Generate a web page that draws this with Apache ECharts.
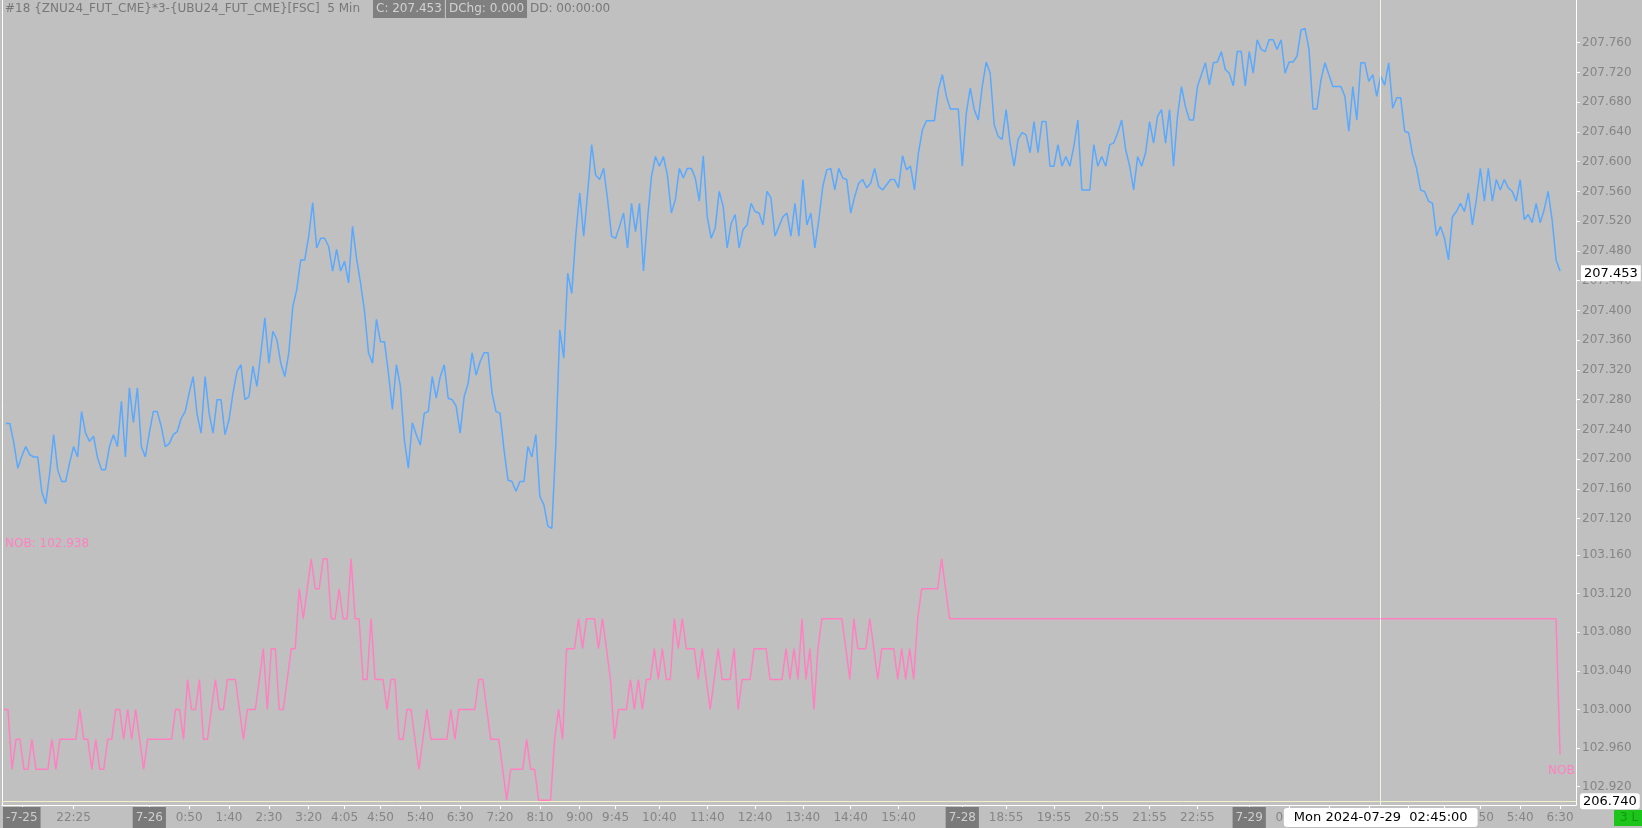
<!DOCTYPE html>
<html>
<head>
<meta charset="utf-8">
<script src="https://cdn.jsdelivr.net/npm/echarts@6/dist/echarts.min.js"></script>
<style>
  html, body { margin: 0; padding: 0; background: #c0c0c0; }
  #main { width: 1642px; height: 828px; }
</style>
</head>
<body>
<div id="main"></div>
<script>
// sessions: date, start hour, start minute, number of 5 min bars
const sessions = [['7-25', 21, 0, 36], ['7-26', 0, 0, 204], ['7-28', 18, 0, 72], ['7-29', 0, 0, 79]];

// ZNU24*3 - UBU24 spread, close of each 5 min bar
const spread = [
  207.248, 207.248, 207.222, 207.188, 207.204, 207.217, 207.206, 207.203, 207.203, 207.157,
  207.140, 207.181, 207.233, 207.186, 207.170, 207.170, 207.195, 207.217, 207.203, 207.264,
  207.235, 207.224, 207.231, 207.202, 207.186, 207.186, 207.217, 207.233, 207.217, 207.278,
  207.203, 207.296, 207.249, 207.296, 207.217, 207.203, 207.235, 207.264, 207.264, 207.244,
  207.217, 207.221, 207.233, 207.237, 207.255, 207.264, 207.289, 207.311, 207.260, 207.235,
  207.311, 207.262, 207.235, 207.280, 207.280, 207.233, 207.253, 207.289, 207.318, 207.327,
  207.280, 207.284, 207.325, 207.298, 207.343, 207.390, 207.329, 207.372, 207.361, 207.329,
  207.311, 207.343, 207.405, 207.428, 207.468, 207.468, 207.500, 207.545, 207.484, 207.497,
  207.497, 207.486, 207.453, 207.482, 207.453, 207.466, 207.437, 207.513, 207.470, 207.437,
  207.399, 207.343, 207.329, 207.388, 207.358, 207.358, 207.316, 207.267, 207.327, 207.298,
  207.226, 207.188, 207.249, 207.233, 207.219, 207.262, 207.264, 207.311, 207.282, 207.311,
  207.327, 207.282, 207.280, 207.271, 207.235, 207.284, 207.302, 207.343, 207.313, 207.331,
  207.343, 207.343, 207.289, 207.264, 207.262, 207.213, 207.172, 207.170, 207.157, 207.170,
  207.170, 207.217, 207.203, 207.233, 207.150, 207.139, 207.110, 207.107, 207.220, 207.374,
  207.336, 207.450, 207.423, 207.500, 207.558, 207.500, 207.558, 207.623, 207.582, 207.576,
  207.591, 207.549, 207.500, 207.497, 207.513, 207.531, 207.484, 207.544, 207.506, 207.544,
  207.453, 207.522, 207.580, 207.607, 207.594, 207.607, 207.582, 207.531, 207.549, 207.591,
  207.578, 207.591, 207.591, 207.578, 207.547, 207.608, 207.526, 207.497, 207.511, 207.560,
  207.540, 207.484, 207.517, 207.529, 207.484, 207.509, 207.515, 207.544, 207.533, 207.531,
  207.515, 207.560, 207.551, 207.500, 207.513, 207.526, 207.531, 207.500, 207.544, 207.500,
  207.576, 207.515, 207.531, 207.484, 207.522, 207.567, 207.589, 207.591, 207.562, 207.591,
  207.578, 207.576, 207.531, 207.553, 207.571, 207.576, 207.565, 207.571, 207.591, 207.567,
  207.562, 207.569, 207.576, 207.576, 207.565, 207.608, 207.589, 207.594, 207.562, 207.612,
  207.643, 207.655, 207.655, 207.655, 207.697, 207.717, 207.688, 207.671, 207.671, 207.671,
  207.594, 207.665, 207.699, 207.670, 207.656, 207.701, 207.734, 207.719, 207.650, 207.634,
  207.630, 207.670, 207.625, 207.594, 207.630, 207.639, 207.636, 207.612, 207.654, 207.612,
  207.654, 207.654, 207.594, 207.594, 207.623, 207.594, 207.607, 207.594, 207.621, 207.656,
  207.562, 207.562, 207.562, 207.623, 207.594, 207.607, 207.594, 207.623, 207.625, 207.639,
  207.656, 207.616, 207.594, 207.562, 207.607, 207.594, 207.612, 207.654, 207.625, 207.661,
  207.670, 207.625, 207.670, 207.594, 207.661, 207.701, 207.674, 207.656, 207.656, 207.701,
  207.717, 207.733, 207.703, 207.733, 207.734, 207.748, 207.724, 207.719, 207.702, 207.748,
  207.748, 207.702, 207.748, 207.719, 207.764, 207.751, 207.748, 207.764, 207.764, 207.751,
  207.764, 207.719, 207.734, 207.734, 207.742, 207.777, 207.779, 207.751, 207.671, 207.671,
  207.710, 207.733, 207.717, 207.701, 207.701, 207.701, 207.688, 207.641, 207.701, 207.656,
  207.733, 207.733, 207.708, 207.717, 207.688, 207.715, 207.703, 207.733, 207.672, 207.686,
  207.686, 207.641, 207.639, 207.609, 207.591, 207.562, 207.560, 207.547, 207.544, 207.500,
  207.513, 207.497, 207.468, 207.526, 207.533, 207.544, 207.533, 207.558, 207.515, 207.549,
  207.591, 207.547, 207.591, 207.547, 207.576, 207.562, 207.576, 207.565, 207.560, 207.547,
  207.576, 207.522, 207.529, 207.518, 207.544, 207.518, 207.535, 207.560, 207.522, 207.468,
  207.453
];

// NOB study values
const nob = [
  103.000, 103.000, 102.938, 102.969, 102.969, 102.938, 102.938, 102.969, 102.938, 102.938,
  102.938, 102.938, 102.969, 102.938, 102.969, 102.969, 102.969, 102.969, 102.969, 103.000,
  102.969, 102.969, 102.938, 102.969, 102.938, 102.938, 102.969, 102.969, 103.000, 103.000,
  102.969, 103.000, 102.969, 103.000, 102.969, 102.938, 102.969, 102.969, 102.969, 102.969,
  102.969, 102.969, 102.969, 103.000, 103.000, 102.969, 103.031, 103.000, 103.000, 103.031,
  102.969, 102.969, 103.000, 103.031, 103.000, 103.000, 103.031, 103.031, 103.031, 103.000,
  102.969, 103.000, 103.000, 103.000, 103.031, 103.063, 103.000, 103.063, 103.063, 103.000,
  103.000, 103.031, 103.063, 103.063, 103.125, 103.094, 103.125, 103.156, 103.125, 103.125,
  103.156, 103.156, 103.094, 103.094, 103.125, 103.094, 103.094, 103.156, 103.094, 103.094,
  103.031, 103.031, 103.094, 103.031, 103.031, 103.031, 103.000, 103.031, 103.031, 102.969,
  102.969, 103.000, 103.000, 102.969, 102.938, 102.969, 103.000, 102.969, 102.969, 102.969,
  102.969, 102.969, 103.000, 102.969, 103.000, 103.000, 103.000, 103.000, 103.000, 103.031,
  103.031, 103.000, 102.969, 102.969, 102.969, 102.938, 102.906, 102.938, 102.938, 102.938,
  102.938, 102.969, 102.938, 102.938, 102.906, 102.906, 102.906, 102.906, 102.969, 103.000,
  102.969, 103.063, 103.063, 103.063, 103.094, 103.063, 103.094, 103.094, 103.094, 103.063,
  103.094, 103.063, 103.031, 102.969, 103.000, 103.000, 103.000, 103.031, 103.000, 103.031,
  103.000, 103.031, 103.031, 103.063, 103.031, 103.063, 103.031, 103.031, 103.094, 103.063,
  103.094, 103.063, 103.063, 103.063, 103.031, 103.063, 103.031, 103.000, 103.031, 103.063,
  103.031, 103.031, 103.031, 103.063, 103.000, 103.031, 103.031, 103.031, 103.063, 103.063,
  103.063, 103.063, 103.031, 103.031, 103.031, 103.031, 103.063, 103.031, 103.063, 103.031,
  103.094, 103.031, 103.063, 103.000, 103.063, 103.094, 103.094, 103.094, 103.094, 103.094,
  103.094, 103.063, 103.031, 103.094, 103.063, 103.063, 103.063, 103.094, 103.063, 103.031,
  103.063, 103.063, 103.063, 103.063, 103.031, 103.063, 103.031, 103.063, 103.031, 103.094,
  103.125, 103.125, 103.125, 103.125, 103.125, 103.156, 103.125, 103.094, 103.094, 103.094,
  103.094, 103.094, 103.094, 103.094, 103.094, 103.094, 103.094, 103.094, 103.094, 103.094,
  103.094, 103.094, 103.094, 103.094, 103.094, 103.094, 103.094, 103.094, 103.094, 103.094,
  103.094, 103.094, 103.094, 103.094, 103.094, 103.094, 103.094, 103.094, 103.094, 103.094,
  103.094, 103.094, 103.094, 103.094, 103.094, 103.094, 103.094, 103.094, 103.094, 103.094,
  103.094, 103.094, 103.094, 103.094, 103.094, 103.094, 103.094, 103.094, 103.094, 103.094,
  103.094, 103.094, 103.094, 103.094, 103.094, 103.094, 103.094, 103.094, 103.094, 103.094,
  103.094, 103.094, 103.094, 103.094, 103.094, 103.094, 103.094, 103.094, 103.094, 103.094,
  103.094, 103.094, 103.094, 103.094, 103.094, 103.094, 103.094, 103.094, 103.094, 103.094,
  103.094, 103.094, 103.094, 103.094, 103.094, 103.094, 103.094, 103.094, 103.094, 103.094,
  103.094, 103.094, 103.094, 103.094, 103.094, 103.094, 103.094, 103.094, 103.094, 103.094,
  103.094, 103.094, 103.094, 103.094, 103.094, 103.094, 103.094, 103.094, 103.094, 103.094,
  103.094, 103.094, 103.094, 103.094, 103.094, 103.094, 103.094, 103.094, 103.094, 103.094,
  103.094, 103.094, 103.094, 103.094, 103.094, 103.094, 103.094, 103.094, 103.094, 103.094,
  103.094, 103.094, 103.094, 103.094, 103.094, 103.094, 103.094, 103.094, 103.094, 103.094,
  103.094, 103.094, 103.094, 103.094, 103.094, 103.094, 103.094, 103.094, 103.094, 103.094,
  102.953
];

// x tick labels: category, text
const xTicks = [
  ['7-25 21:20', '-7-25'], ['7-25 22:25', '22:25'], ['7-26 0:00', '7-26'], ['7-26 0:50', '0:50'],
  ['7-26 1:40', '1:40'], ['7-26 2:30', '2:30'], ['7-26 3:20', '3:20'], ['7-26 4:05', '4:05'],
  ['7-26 4:50', '4:50'], ['7-26 5:40', '5:40'], ['7-26 6:30', '6:30'], ['7-26 7:20', '7:20'],
  ['7-26 8:10', '8:10'], ['7-26 9:00', '9:00'], ['7-26 9:45', '9:45'], ['7-26 10:40', '10:40'],
  ['7-26 11:40', '11:40'], ['7-26 12:40', '12:40'], ['7-26 13:40', '13:40'], ['7-26 14:40', '14:40'],
  ['7-26 15:40', '15:40'], ['7-28 18:00', '7-28'], ['7-28 18:55', '18:55'], ['7-28 19:55', '19:55'],
  ['7-28 20:55', '20:55'], ['7-28 21:55', '21:55'], ['7-28 22:55', '22:55'], ['7-29 0:00', '7-29'],
  ['7-29 0:50', '0:50'], ['7-29 1:40', '1:40'], ['7-29 2:30', '2:30'], ['7-29 3:20', '3:20'],
  ['7-29 4:05', '4:05'], ['7-29 4:50', '4:50'], ['7-29 5:40', '5:40'], ['7-29 6:30', '6:30']
];
const upperTicks = [207.12, 207.16, 207.20, 207.24, 207.28, 207.32, 207.36, 207.40, 207.44,
  207.48, 207.52, 207.56, 207.60, 207.64, 207.68, 207.72, 207.76];
const lowerTicks = [102.92, 102.96, 103.00, 103.04, 103.08, 103.12, 103.16];

const cursorBar = '7-29 2:45';
const cursorPrice = 206.740;
const lastPrice = spread[spread.length - 1];

// build the 5 min bar categories (one bar before, four empty after)
const cats = [];
const addCat = (d, mins) => cats.push(d + ' ' + Math.floor(mins / 60) + ':' + String(mins % 60).padStart(2, '0'));
addCat('7-25', 20 * 60 + 55);
sessions.forEach(([d, h, m, n]) => { for (let k = 0; k < n; k++) addCat(d, h * 60 + m + k * 5); });
for (let k = 1; k <= 4; k++) addCat('7-29', 6 * 60 + 30 + k * 5);

const tickText = {};
xTicks.forEach(([c, t]) => { tickText[cats.indexOf(c)] = t; });
const isTick = idx => tickText[idx] !== undefined;

const grey = '#858585';
const font = 'DejaVu Sans';
const boxLabel = { backgroundColor: '#ffffff', color: '#000000', fontSize: 13, fontFamily: font, padding: [2, 3, 1, 3] };

var myChart = echarts.init(document.getElementById('main'));
myChart.setOption({
  backgroundColor: '#c0c0c0',
  animation: false,
  textStyle: { fontFamily: font },
  axisPointer: { triggerOn: 'none' },
  title: [
    { text: '#18 {ZNU24_FUT_CME}*3-{UBU24_FUT_CME}[FSC]  5 Min', left: 5, top: 1, padding: [2, 0],
      textStyle: { color: '#777', fontSize: 12, fontWeight: 'normal', fontFamily: font } },
    { text: 'C: 207.453', left: 373, top: 0, padding: [3, 3], backgroundColor: '#808080',
      textStyle: { color: '#d2d2d2', fontSize: 12, fontWeight: 'normal', fontFamily: font } },
    { text: 'DChg: 0.000', left: 446, top: 0, padding: [3, 3], backgroundColor: '#808080',
      textStyle: { color: '#d2d2d2', fontSize: 12, fontWeight: 'normal', fontFamily: font } },
    { text: 'DD: 00:00:00', left: 530, top: 1, padding: [2, 0],
      textStyle: { color: '#777', fontSize: 12, fontWeight: 'normal', fontFamily: font } },
    { text: 'NOB: 102.938', left: 5, top: 538, padding: 0,
      textStyle: { color: '#ff80c0', fontSize: 12, fontWeight: 'normal', fontFamily: font } },
    { text: '3 L', left: 1614, top: 810, padding: [2, 6], backgroundColor: '#1cc41c',
      textStyle: { color: '#0f9a0f', fontSize: 12, fontWeight: 'normal', fontFamily: font } }
  ],
  grid: [
    { left: 0, right: 66, top: 0, bottom: 23 },
    { left: 0, right: 66, top: 530, bottom: 23 }
  ],
  xAxis: [
    {
      type: 'category', gridIndex: 0, data: cats, boundaryGap: false,
      axisLine: { lineStyle: { color: '#ffffff', width: 1 } },
      axisTick: { interval: isTick, length: 4, lineStyle: { color: '#ffffff' } },
      axisLabel: {
        interval: isTick, margin: 2, fontSize: 12,
        formatter: (v, idx) => {
          const t = tickText[idx] || '';
          return t.indexOf('-') >= 0 ? '{d|' + t + '}' : '{t|' + t + '}';
        },
        rich: {
          t: { color: grey, fontSize: 12, fontFamily: font, padding: [5, 0, 4, 0] },
          d: { color: '#cfcfcf', fontSize: 12, fontFamily: font, backgroundColor: '#7a7a7a', padding: [5, 3, 4, 3] }
        }
      },
      splitLine: { show: false },
      axisPointer: {
        show: true, type: 'line', snap: false, status: 'show', triggerTooltip: false,
        value: cats.indexOf(cursorBar),
        lineStyle: { color: '#f4f4e4', width: 1, type: 'solid' },
        label: Object.assign({ show: true, margin: 3, formatter: () => 'Mon 2024-07-29  02:45:00' },
          boxLabel, { padding: [3, 10, 3, 10] })
      }
    },
    { type: 'category', gridIndex: 1, data: cats, boundaryGap: false, show: false }
  ],
  yAxis: [
    {
      type: 'value', gridIndex: 0, position: 'right', scale: true, min: 206.7351, max: 207.8174,
      axisLine: { show: true, lineStyle: { color: '#ffffff' } },
      axisTick: { show: true, customValues: upperTicks, length: 4, lineStyle: { color: '#ffffff' } },
      axisLabel: { customValues: upperTicks, formatter: v => v.toFixed(3), color: grey, fontSize: 12, margin: 6 },
      splitLine: { show: false },
      axisPointer: {
        show: true, type: 'line', status: 'show', triggerTooltip: false, value: cursorPrice,
        lineStyle: { color: '#f0f0c8', width: 1, type: 'solid' },
        label: Object.assign({ show: true, margin: 4, formatter: () => cursorPrice.toFixed(3) }, boxLabel)
      }
    },
    {
      type: 'value', gridIndex: 1, position: 'right', scale: true, min: 102.9010, max: 103.1859,
      axisLine: { show: false },
      axisTick: { show: true, customValues: lowerTicks, length: 4, lineStyle: { color: '#ffffff' } },
      axisLabel: { customValues: lowerTicks, formatter: v => v.toFixed(3), color: grey, fontSize: 12, margin: 6 },
      splitLine: { show: false }
    },
    {
      type: 'value', gridIndex: 0, position: 'left', min: 206.7351, max: 207.8174,
      axisLine: { show: true, lineStyle: { color: '#ffffff' } },
      axisTick: { show: false }, axisLabel: { show: false }, splitLine: { show: false }
    }
  ],
  series: [
    {
      name: 'spread', type: 'line', xAxisIndex: 0, yAxisIndex: 0,
      data: spread.map((v, i) => [i + 1, v]),
      showSymbol: false, silent: true, clip: false,
      lineStyle: { color: '#58a9ff', width: 1.5 },
      markLine: {
        silent: true, symbol: 'none', animation: false,
        lineStyle: { color: 'rgba(0,0,0,0)', width: 1, type: 'solid' },
        data: [{ yAxis: lastPrice }],
        label: Object.assign({ show: true, position: 'end', distance: 5, formatter: () => lastPrice.toFixed(3) }, boxLabel)
      }
    },
    {
      name: 'NOB', type: 'line', xAxisIndex: 1, yAxisIndex: 1,
      data: nob.map((v, i) => [i + 1, v]),
      showSymbol: false, silent: true,
      lineStyle: { color: '#ff80c0', width: 1.5 },
      endLabel: { show: true, formatter: 'NOB', color: '#ff80c0', fontSize: 12, fontFamily: font, offset: [-20, 16] }
    }
  ]
});
</script>
</body>
</html>
